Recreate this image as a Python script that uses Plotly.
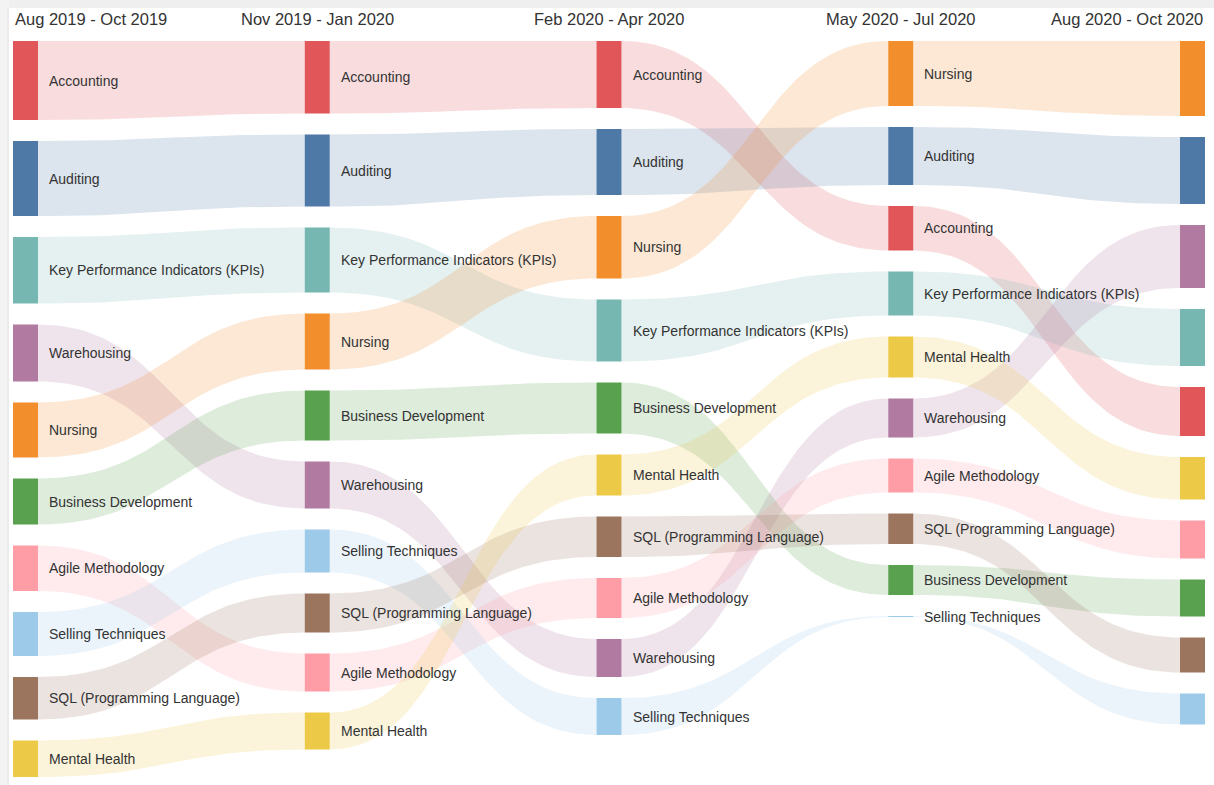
import numpy as np
import plotly.graph_objects as go

periods = ["Aug 2019 - Oct 2019", "Nov 2019 - Jan 2020", "Feb 2020 - Apr 2020",
           "May 2020 - Jul 2020", "Aug 2020 - Oct 2020"]

skills = ["Accounting", "Auditing", "Key Performance Indicators (KPIs)", "Warehousing",
          "Nursing", "Business Development", "Agile Methodology", "Selling Techniques",
          "SQL (Programming Language)", "Mental Health"]

# demand per skill in each period (one value per period)
accounting = [79, 72.5, 67, 44.5, 49]
auditing = [75, 72, 66, 58, 67]
kpis = [66.5, 65, 62, 44, 57]
warehousing = [57, 47, 38, 39, 63]
nursing = [55, 56, 62.5, 65, 75]
business_dev = [46, 50, 51, 30, 37]
agile = [45.5, 38, 40, 34, 38]
selling = [44, 43, 37, 1, 31]
sql = [42.5, 39, 40.5, 30.5, 35]
mental_health = [36.5, 37, 41, 41, 42.5]

colors = ["#e15759", "#4e79a7", "#76b7b2", "#b07aa1", "#f28e2b",
          "#59a14f", "#ff9da7", "#9ecae9", "#9c755f", "#edc948"]

values = [accounting, auditing, kpis, warehousing, nursing,
          business_dev, agile, selling, sql, mental_health]

W, H = 1214, 785
X0, STEP, NODE_W = 13, 291.75, 25
TOP, GAP, SCALE = 41, 21, 1.0
FONT = "Liberation Sans, Arial, sans-serif"
TXT = "#333333"


def rgba(hex_color, a):
    h = hex_color.lstrip("#")
    r, g, b = int(h[0:2], 16), int(h[2:4], 16), int(h[4:6], 16)
    return f"rgba({r},{g},{b},{a})"


# stack nodes in each column, biggest on top
n_per = len(periods)
tops = [[0.0] * n_per for _ in skills]
bots = [[0.0] * n_per for _ in skills]
for c in range(n_per):
    order = sorted(range(len(skills)), key=lambda s: -values[s][c])
    y = TOP
    for s in order:
        tops[s][c] = y
        y += values[s][c] * SCALE
        bots[s][c] = y
        y += GAP

col_left = [X0 + c * STEP for c in range(n_per)]

t = np.linspace(0, 1, 60)


def curve(xa, ya, xb, yb):
    xm = (xa + xb) / 2
    bx = (1 - t) ** 3 * xa + 3 * (1 - t) ** 2 * t * xm + 3 * (1 - t) * t ** 2 * xm + t ** 3 * xb
    by = (1 - t) ** 3 * ya + 3 * (1 - t) ** 2 * t * ya + 3 * (1 - t) * t ** 2 * yb + t ** 3 * yb
    return bx, by


fig = go.Figure()

# links
for s, name in enumerate(skills):
    for c in range(n_per - 1):
        xa = col_left[c] + NODE_W
        xb = col_left[c + 1]
        tx, ty = curve(xa, tops[s][c], xb, tops[s][c + 1])
        bx, by = curve(xa, bots[s][c], xb, bots[s][c + 1])
        fig.add_trace(go.Scatter(
            x=np.concatenate([tx, bx[::-1]]), y=np.concatenate([ty, by[::-1]]),
            mode="lines", fill="toself", fillcolor=rgba(colors[s], 0.2),
            line=dict(width=0), hoverinfo="skip", showlegend=False))

# nodes
for s, name in enumerate(skills):
    for c in range(n_per):
        xl, xr = col_left[c], col_left[c] + NODE_W
        yt, yb = tops[s][c], bots[s][c]
        fig.add_trace(go.Scatter(
            x=[xl, xr, xr, xl, xl], y=[yt, yt, yb, yb, yt],
            mode="lines", fill="toself", fillcolor=colors[s],
            line=dict(width=0, color=colors[s]), name=name,
            hoverinfo="name", showlegend=False))
        if c < n_per - 1:
            fig.add_annotation(x=xr + 9, y=(yt + yb) / 2, text=name, showarrow=False,
                               xanchor="left", yanchor="middle",
                               font=dict(family=FONT, size=14, color=TXT))

# column headers
for c, p in enumerate(periods):
    if c == 0:
        x, anchor = col_left[c], "left"
    elif c == n_per - 1:
        x, anchor = col_left[c] + NODE_W, "right"
    else:
        x, anchor = col_left[c] + NODE_W / 2, "center"
    fig.add_annotation(x=x, y=19, text=p, showarrow=False, xanchor=anchor, yanchor="middle",
                       font=dict(family=FONT, size=16.5, color=TXT))

# light frame around the card
fig.add_shape(type="rect", xref="x", yref="y", x0=0, x1=W, y0=0, y1=8,
              fillcolor="#efefef", line=dict(width=0), layer="below")
fig.add_shape(type="rect", xref="x", yref="y", x0=0, x1=9, y0=0, y1=H,
              fillcolor="#f3f3f3", line=dict(width=0), layer="below")
fig.add_shape(type="line", xref="x", yref="y", x0=8, x1=8, y0=8, y1=H,
              line=dict(width=1, color="#e4e4e4"), layer="below")

fig.update_layout(
    width=W, height=H, margin=dict(l=0, r=0, t=0, b=0),
    paper_bgcolor="white", plot_bgcolor="white",
    xaxis=dict(range=[0, W], visible=False, fixedrange=True),
    yaxis=dict(range=[H, 0], visible=False, fixedrange=True),
    hovermode="closest",
)

fig.write_html("out.html", config={"displayModeBar": False},
               post_script="document.body.style.margin='0';")
